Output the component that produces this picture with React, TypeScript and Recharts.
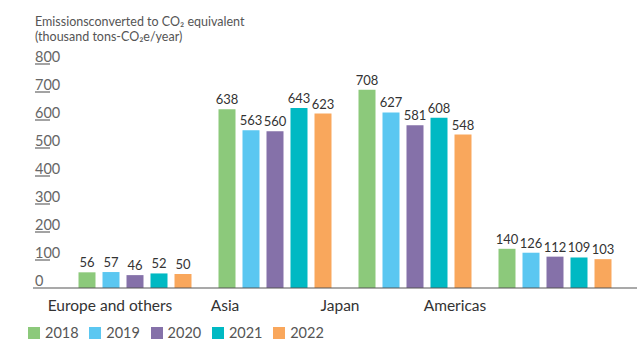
import { Bar, BarChart, LabelList, Legend, XAxis, YAxis } from 'recharts';

const regions = ['Europe and others', 'Asia', 'Japan', 'Americas'];
const years = ['2018', '2019', '2020', '2021', '2022'];
const v2018 = [56, 638, 708, 140];
const v2019 = [57, 563, 627, 126];
const v2020 = [46, 560, 581, 112];
const v2021 = [52, 643, 608, 109];
const v2022 = [50, 623, 548, 103];
const yTicks = [0, 100, 200, 300, 400, 500, 600, 700, 800];

const yearValues = [v2018, v2019, v2020, v2021, v2022];
const yearColors = ['#8cc97b', '#5bc7f1', '#8571a9', '#00b9c3', '#f9a75c'];

const data = regions.map((region, i) => {
  const row: Record<string, string | number> = { region };
  years.forEach((y, j) => {
    row[y] = yearValues[j][i];
  });
  return row;
});

const FONT = 'Lato, "Noto Sans", sans-serif';

// tick label sits above its value, with a short rule under it
function YTick(props: { x?: number; y?: number; payload?: { value: number } }) {
  const { y = 0, payload } = props;
  const v = payload?.value ?? 0;
  const left = 35;
  return (
    <g>
      <text x={left} y={y - 2.5} fontSize={14.5} fill="#666" fontFamily={FONT} textAnchor="start">
        {v}
      </text>
      {v !== 0 && <line x1={left} x2={left + 15} y1={y} y2={y} stroke="#666" strokeWidth={1.2} />}
    </g>
  );
}

function LegendContent(props: { payload?: { value: string; color?: string }[] }) {
  const items = props.payload ?? [];
  return (
    <div style={{ display: 'flex', alignItems: 'center', paddingLeft: 28 }}>
      {items.map((it) => (
        <div key={it.value} style={{ display: 'flex', alignItems: 'center', width: 61.3 }}>
          <span style={{ width: 12, height: 12, background: it.color, display: 'inline-block', marginRight: 5 }} />
          <span style={{ fontSize: 14.5, color: '#555', fontFamily: FONT, lineHeight: '16px' }}>{it.value}</span>
        </div>
      ))}
    </div>
  );
}

export default function App() {
  return (
    <div style={{ position: 'absolute', left: 0, top: 0, width: 637, height: 344, background: '#fff' }}>
      <div
        style={{
          position: 'absolute',
          left: 35,
          top: 14,
          fontFamily: FONT,
          fontSize: 12.5,
          lineHeight: '15px',
          color: '#555',
        }}
      >
        Emissionsconverted to CO₂ equivalent
        <br />
        (thousand tons-CO₂e/year)
      </div>
      <BarChart
        width={637}
        height={344}
        data={data}
        margin={{ top: 64, right: 0, bottom: 26, left: 0 }}
        barSize={17}
        barGap={7}
      >
        <XAxis xAxisId="bars" dataKey="region" hide height={0} padding={{ left: 31.5, right: 12.5 }} />
        <XAxis
          xAxisId="labels"
          dataKey="region"
          height={30}
          padding={{ left: 19.5, right: 124.5 }}
          axisLine={{ stroke: '#555', strokeWidth: 1.2 }}
          tickLine={false}
          tickMargin={6}
          interval={0}
          tick={{ fontSize: 15.5, fill: '#333', fontFamily: FONT }}
        />
        <YAxis
          width={33}
          domain={[0, 800]}
          ticks={yTicks}
          axisLine={false}
          tickLine={false}
          tickSize={0}
          tickMargin={0}
          interval={0}
          tick={<YTick />}
        />
        <Legend
          verticalAlign="middle"
          align="center"
          layout="horizontal"
          wrapperStyle={{ top: 325, left: 0, width: 637 }}
          content={<LegendContent />}
        />
        {years.map((y, j) => (
          <Bar key={y} xAxisId="bars" dataKey={y} name={y} fill={yearColors[j]} isAnimationActive={false}>
            <LabelList dataKey={y} position="top" offset={5} fontSize={13} fill="#333" fontFamily={FONT} />
          </Bar>
        ))}
      </BarChart>
    </div>
  );
}
